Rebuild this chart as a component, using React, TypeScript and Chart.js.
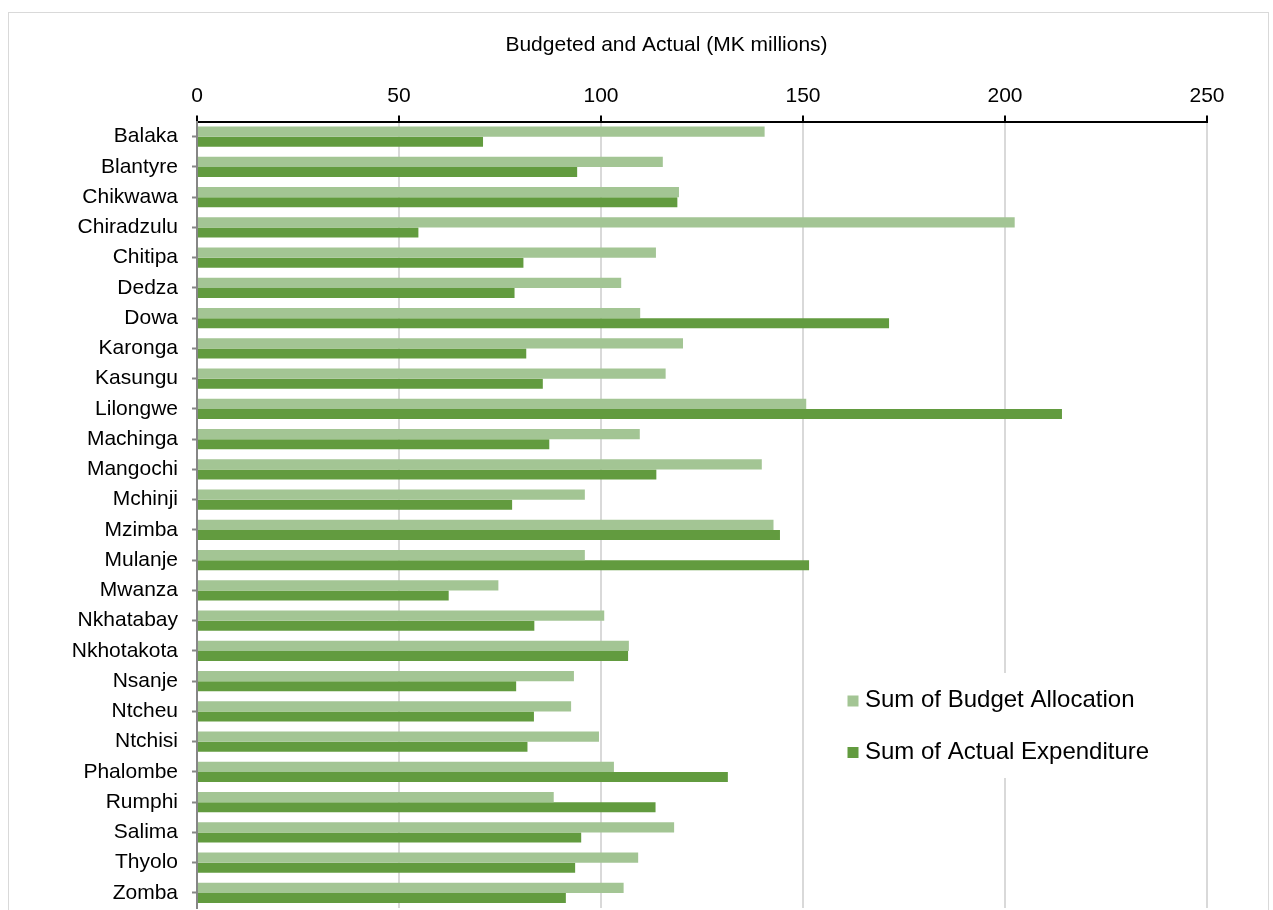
import React, { useEffect, useRef } from "react";
import { Chart, registerables } from "chart.js";

Chart.register(...registerables);

const categories = [
  "Balaka", "Blantyre", "Chikwawa", "Chiradzulu", "Chitipa", "Dedza", "Dowa",
  "Karonga", "Kasungu", "Lilongwe", "Machinga", "Mangochi", "Mchinji", "Mzimba",
  "Mulanje", "Mwanza", "Nkhatabay", "Nkhotakota", "Nsanje", "Ntcheu", "Ntchisi",
  "Phalombe", "Rumphi", "Salima", "Thyolo", "Zomba",
];
const budgetAllocation = [
  140.5, 115.3, 119.3, 202.4, 113.6, 105.0, 109.7, 120.3, 116.0, 150.8, 109.6,
  139.8, 96.0, 142.7, 96.0, 74.6, 100.8, 106.9, 93.3, 92.6, 99.5, 103.2, 88.3,
  118.1, 109.2, 105.6,
];
const actualExpenditure = [
  70.8, 94.1, 118.9, 54.8, 80.8, 78.6, 171.3, 81.5, 85.6, 214.1, 87.2, 113.7,
  78.0, 144.3, 151.5, 62.3, 83.5, 106.7, 79.0, 83.4, 81.8, 131.4, 113.5, 95.1,
  93.6, 91.3,
];
const xTicks = [0, 50, 100, 150, 200, 250];
const seriesLabels = ["Sum of Budget Allocation", "Sum of Actual Expenditure"];
const seriesColors = ["#A3C594", "#629B3F"];
const axisTitle = "Budgeted and Actual (MK millions)";

const FONT = "'Liberation Sans', Arial, sans-serif";

const titlePlugin = {
  id: "axisTitleText",
  afterDraw(chart: any) {
    const ctx = chart.ctx;
    ctx.save();
    ctx.font = `21px ${FONT}`;
    ctx.fillStyle = "#000";
    ctx.textAlign = "center";
    ctx.textBaseline = "middle";
    ctx.fillText(axisTitle, 657.5, 32);
    ctx.restore();
  },
};

const legendPlugin = {
  id: "insideLegend",
  afterDraw(chart: any) {
    const ctx = chart.ctx;
    ctx.save();
    ctx.fillStyle = "#ffffff";
    ctx.fillRect(831, 660, 360, 105);
    ctx.font = `24px ${FONT}`;
    ctx.textAlign = "left";
    ctx.textBaseline = "alphabetic";
    chart.data.datasets.forEach((ds: any, i: number) => {
      const cy = 688 + i * 51.5;
      ctx.fillStyle = ds.backgroundColor;
      ctx.fillRect(838.5, cy - 5.5, 11, 11);
      ctx.fillStyle = "#000";
      ctx.fillText(ds.label, 856, cy + 6);
    });
    ctx.restore();
  },
};

function BarChart() {
  const ref = useRef<HTMLCanvasElement | null>(null);
  useEffect(() => {
    if (!ref.current) return;
    Chart.defaults.font.family = FONT;
    const chart = new Chart(ref.current, {
      type: "bar",
      data: {
        labels: categories,
        datasets: [
          {
            label: seriesLabels[0],
            data: budgetAllocation,
            backgroundColor: seriesColors[0],
            categoryPercentage: 0.67,
            barPercentage: 1.0,
          },
          {
            label: seriesLabels[1],
            data: actualExpenditure,
            backgroundColor: seriesColors[1],
            categoryPercentage: 0.67,
            barPercentage: 1.0,
          },
        ],
      },
      options: {
        indexAxis: "y",
        responsive: false,
        animation: false,
        devicePixelRatio: 1,
        layout: { padding: { left: 0, top: 0, right: 61, bottom: 43 } },
        plugins: {
          legend: { display: false },
          title: { display: false },
          tooltip: { enabled: false },
        },
        scales: {
          x: {
            type: "linear",
            position: "top",
            min: 0,
            max: 250,
            afterBuildTicks: (s: any) => {
              s.ticks = xTicks.map((v) => ({ value: v }));
            },
            afterFit: (s: any) => {
              s.height = 108.5;
            },
            ticks: {
              font: { size: 21 },
              color: "#000",
              padding: 7,
              maxRotation: 0,
            },
            grid: {
              color: "#d9d9d9",
              lineWidth: 2,
              drawTicks: true,
              tickLength: 6,
              tickColor: "#000",
              tickWidth: 2,
            },
            border: { display: true, color: "#000", width: 2 },
          },
          y: {
            type: "category",
            position: "left",
            afterFit: (s: any) => {
              s.width = 188;
            },
            ticks: {
              font: { size: 21 },
              color: "#000",
              padding: 14,
              autoSkip: false,
            },
            grid: {
              display: true,
              offset: false,
              drawOnChartArea: false,
              drawTicks: true,
              tickLength: 5,
              tickColor: "#868686",
              tickWidth: 2,
            },
            border: { display: true, color: "#868686", width: 2 },
          },
        },
      },
      plugins: [titlePlugin, legendPlugin],
    });
    return () => chart.destroy();
  }, []);

  return (
    <div
      style={{
        position: "absolute",
        left: 8,
        top: 12,
        width: 1261,
        height: 898,
        overflow: "hidden",
      }}
    >
      <div
        style={{
          width: 1261,
          height: 940,
          border: "1px solid #d9d9d9",
          boxSizing: "border-box",
          background: "#fff",
        }}
      >
        <canvas ref={ref} width={1259} height={938} style={{ display: "block" }} />
      </div>
    </div>
  );
}

export default function App() {
  return <BarChart />;
}
